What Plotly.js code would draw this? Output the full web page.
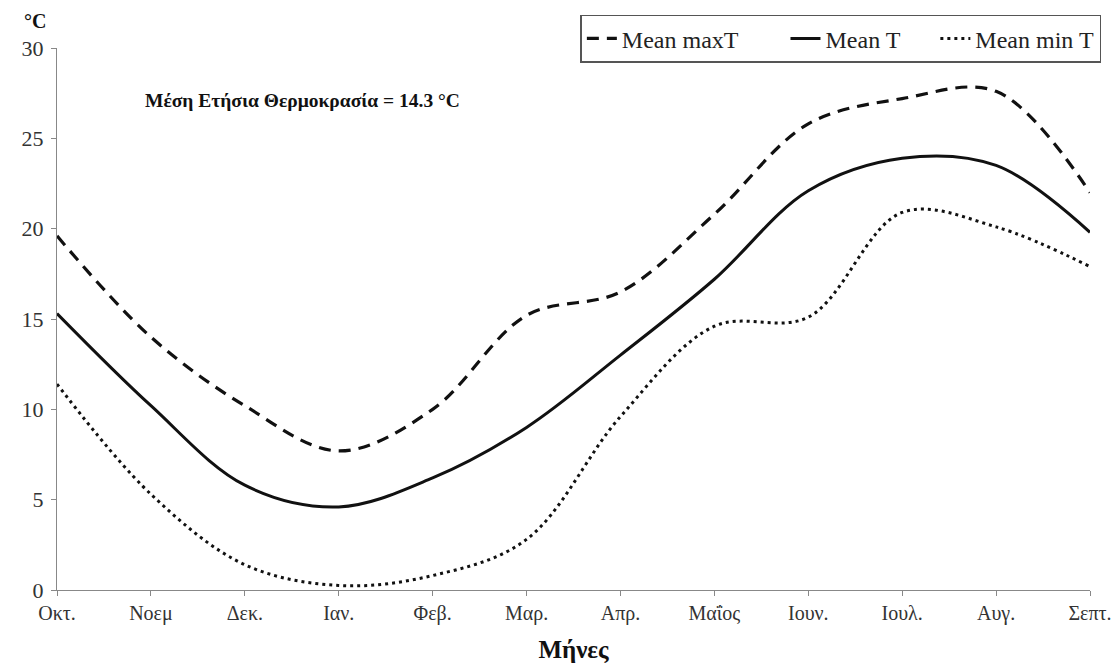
<!DOCTYPE html>
<html>
<head>
<meta charset="utf-8">
<script src="https://cdn.plot.ly/plotly-3.0.1.min.js"></script>
<style>
  html, body { margin: 0; padding: 0; background: #ffffff; }
  #chart { width: 1111px; height: 668px; }
</style>
</head>
<body>
<div id="chart"></div>
<script>
// Monthly climate values, hydrological year October -> September
const months = ["Οκτ.", "Νοεμ", "Δεκ.", "Ιαν.", "Φεβ.", "Μαρ.", "Απρ.", "Μαΐος", "Ιουν.", "Ιουλ.", "Αυγ.", "Σεπτ."];
const meanMaxT = [19.6, 14.0, 10.2, 7.7, 10.0, 15.2, 16.5, 20.8, 25.8, 27.2, 27.6, 22.0];
const meanT    = [15.3, 10.2, 5.8, 4.6, 6.2, 9.0, 13.0, 17.2, 22.1, 23.9, 23.5, 19.8];
const meanMinT = [11.4, 5.3, 1.4, 0.25, 0.8, 2.8, 9.6, 14.6, 15.1, 20.9, 20.1, 17.9];
const seriesNames = ["Mean maxT", "Mean T", "Mean min T"];
const yTicks = [0, 5, 10, 15, 20, 25, 30];
const annualMean = 14.3;

const serif = "Liberation Serif";
// non-breaking spaces widen the gap between legend entries
const pad = n => "\u00a0".repeat(n);

const traces = [
  {
    x: months, y: meanMaxT, name: seriesNames[0] + pad(7), type: "scatter", mode: "lines",
    line: { color: "#111111", width: 3.2, dash: "12px,8px", shape: "spline", smoothing: 1 }
  },
  {
    x: months, y: meanT, name: seriesNames[1] + pad(5), type: "scatter", mode: "lines",
    line: { color: "#111111", width: 3, shape: "spline", smoothing: 1 }
  },
  {
    x: months, y: meanMinT, name: seriesNames[2], type: "scatter", mode: "lines",
    line: { color: "#111111", width: 3, dash: "3px,4px", shape: "spline", smoothing: 1 }
  }
];

const layout = {
  width: 1111, height: 668,
  margin: { l: 57, r: 21, t: 48, b: 78, autoexpand: false },
  paper_bgcolor: "#ffffff", plot_bgcolor: "#ffffff",
  font: { family: serif, color: "#333333", size: 18 },
  showlegend: true,
  legend: {
    orientation: "h",
    x: 1.011, xanchor: "right",
    y: 1.017, yanchor: "middle",
    bordercolor: "#555555", borderwidth: 1.5,
    bgcolor: "#ffffff",
    font: { family: serif, size: 24, color: "#222222" },
    tracegroupgap: 0
  },
  xaxis: {
    type: "category",
    range: [0, months.length - 1],
    showline: true, linecolor: "#888888", linewidth: 1,
    ticks: "outside", ticklen: 5, tickcolor: "#888888",
    showgrid: false, zeroline: false,
    tickfont: { family: serif, size: 20, color: "#333333" },
    title: { text: "<b>Μήνες</b>", font: { family: serif, size: 25, color: "#111111" }, standoff: 16 }
  },
  yaxis: {
    range: [0, 30],
    tickvals: yTicks,
    showline: true, linecolor: "#888888", linewidth: 1,
    ticks: "outside", ticklen: 5, tickcolor: "#888888",
    ticklabelstandoff: 3,
    showgrid: false, zeroline: false,
    tickfont: { family: serif, size: 22, color: "#333333" }
  },
  annotations: [
    {
      xref: "paper", yref: "paper", x: -0.034, y: 1.05,
      xanchor: "left", yanchor: "middle", showarrow: false,
      text: "<b>°C</b>", font: { family: serif, size: 20, color: "#111111" }
    },
    {
      xref: "paper", yref: "paper", x: 0.083, y: 0.903,
      xanchor: "left", yanchor: "middle", showarrow: false,
      text: "<b>Μέση Ετήσια Θερμοκρασία = " + annualMean.toFixed(1) + " °C</b>",
      font: { family: serif, size: 19.5, color: "#111111" }
    }
  ]
};

Plotly.newPlot("chart", traces, layout, { displayModeBar: false, staticPlot: true });
</script>
</body>
</html>
